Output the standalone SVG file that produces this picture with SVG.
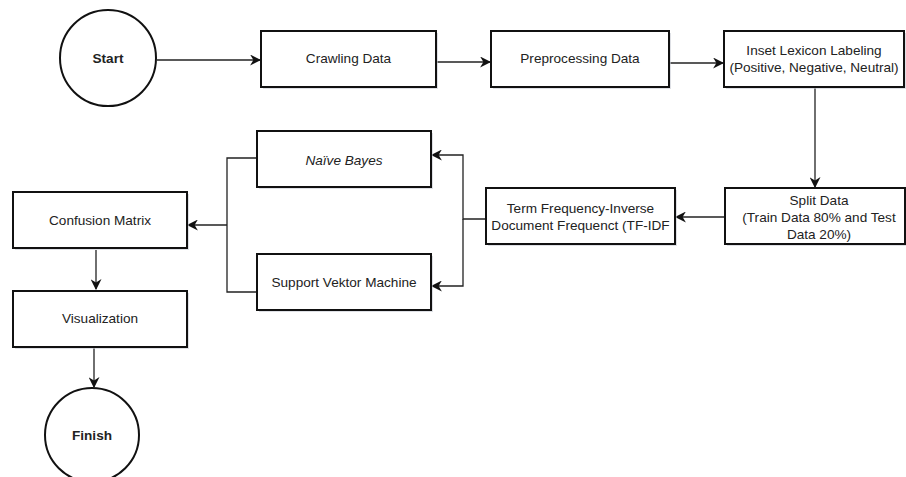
<svg xmlns="http://www.w3.org/2000/svg" width="906" height="477" viewBox="0 0 906 477">
<style>
.box{fill:#fff;stroke:#111;stroke-width:2}
.sh{fill:#c8ccd4;opacity:0.6}
.t{font-family:"Liberation Sans",Arial,sans-serif;font-size:13.6px;fill:#222;text-anchor:middle}
.b{font-weight:bold}
.i{font-style:italic}
.c{fill:none;stroke:#222;stroke-width:1.3}
</style>
<defs>
<marker id="ah" viewBox="0 0 10 10" refX="9" refY="5" markerWidth="11" markerHeight="11" markerUnits="userSpaceOnUse" orient="auto">
<path d="M0,0 L10,5 L0,10 L3,5 Z" fill="#111"/>
</marker>
</defs>
<rect width="906" height="477" fill="#fff"/>
<g id="connectors">
<path class="c" d="M157,60 L260,60" marker-end="url(#ah)"/>
<path class="c" d="M436,62 L490,62" marker-end="url(#ah)"/>
<path class="c" d="M669,63 L723,63" marker-end="url(#ah)"/>
<path class="c" d="M815,88 L815,187" marker-end="url(#ah)"/>
<path class="c" d="M725,217 L676,217" marker-end="url(#ah)"/>
<path class="c" d="M486,219 L463,219 L463,155 L432,155" marker-end="url(#ah)"/>
<path class="c" d="M463,219 L463,286 L432,286" marker-end="url(#ah)"/>
<path class="c" d="M257,158 L227,158 L227,292 L257,292"/>
<path class="c" d="M227,225 L188,225" marker-end="url(#ah)"/>
<path class="c" d="M96,250 L96,289" marker-end="url(#ah)"/>
<path class="c" d="M94,348 L94,387" marker-end="url(#ah)"/>
</g>
<g id="start">
<circle cx="108" cy="58" r="48" fill="#fff" stroke="#111" stroke-width="2"/>
<text class="t b" x="108" y="63">Start</text>
</g>
<g id="crawling">
<rect class="sh" x="263" y="33" width="175" height="56"/>
<rect class="box" x="261" y="31" width="175" height="56"/>
<text class="t" x="348.5" y="63">Crawling Data</text>
</g>
<g id="preprocessing">
<rect class="sh" x="493" y="33" width="178" height="56"/>
<rect class="box" x="491" y="31" width="178" height="56"/>
<text class="t" x="580" y="63">Preprocessing Data</text>
</g>
<g id="lexicon">
<rect class="sh" x="726" y="33" width="180" height="56"/>
<rect class="box" x="724" y="31" width="180" height="56"/>
<text class="t" x="814" y="55">Inset Lexicon Labeling</text>
<text class="t" x="814" y="72">(Positive, Negative, Neutral)</text>
</g>
<g id="split">
<rect class="sh" x="727" y="190" width="180" height="56"/>
<rect class="box" x="725" y="188" width="180" height="56"/>
<text class="t" x="819" y="205">Split Data</text>
<text class="t" x="819" y="222">(Train Data 80% and Test</text>
<text class="t" x="819" y="239">Data 20%)</text>
</g>
<g id="tfidf">
<rect class="sh" x="488" y="190" width="189" height="56"/>
<rect class="box" x="486" y="188" width="189" height="56"/>
<text class="t" x="580.5" y="213">Term Frequency-Inverse</text>
<text class="t" x="580.5" y="230">Document Frequenct (TF-IDF</text>
</g>
<g id="naive-bayes">
<rect class="sh" x="259" y="133" width="174" height="56"/>
<rect class="box" x="257" y="131" width="174" height="56"/>
<text class="t i" x="344" y="165">Naïve Bayes</text>
</g>
<g id="svm">
<rect class="sh" x="259" y="256" width="174" height="56"/>
<rect class="box" x="257" y="254" width="174" height="56"/>
<text class="t" x="344" y="287">Support Vektor Machine</text>
</g>
<g id="confusion">
<rect class="sh" x="15" y="194" width="174" height="56"/>
<rect class="box" x="13" y="192" width="174" height="56"/>
<text class="t" x="100" y="225">Confusion Matrix</text>
</g>
<g id="visualization">
<rect class="sh" x="15" y="293" width="174" height="56"/>
<rect class="box" x="13" y="291" width="174" height="56"/>
<text class="t" x="100" y="323">Visualization</text>
</g>
<g id="finish">
<circle cx="92" cy="435" r="47" fill="#fff" stroke="#111" stroke-width="2"/>
<text class="t b" x="92" y="440">Finish</text>
</g>
</svg>
